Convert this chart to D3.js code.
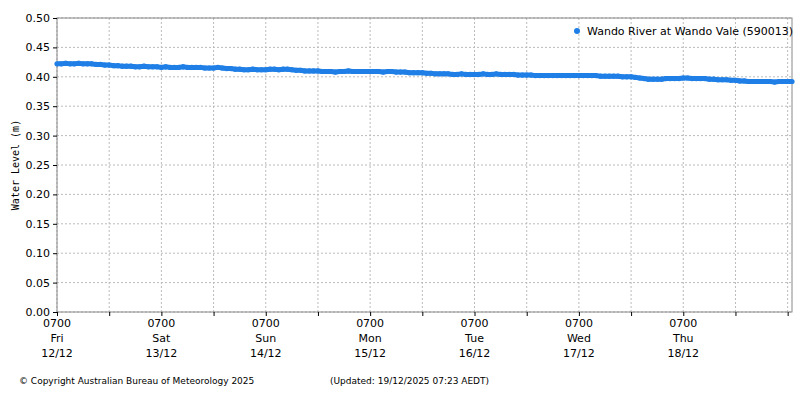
<!DOCTYPE html><html><head><meta charset="utf-8">
<script src="https://cdn.jsdelivr.net/npm/d3@7"></script>
<style>body{margin:0;background:#fff}text{font-family:"DejaVu Sans",sans-serif;fill:#000}</style></head><body>
<svg id="c" width="800" height="400"></svg>
<script>
const seriesName = "Wando River at Wando Vale (590013)";
const startTime = "2025-12-12T07:00";
const endTime = "2025-12-19T08:00";
const tickDays = ["Fri 12/12","Sat 13/12","Sun 14/12","Mon 15/12","Tue 16/12","Wed 17/12","Thu 18/12"];
const yTicks = [0,0.05,0.1,0.15,0.2,0.25,0.3,0.35,0.4,0.45,0.5];
const hourlyLevels = [
.422,.422,.423,.422,.422,.423,.422,.422,.422,.421,.421,.420,.420,.419,.419,.418,.418,.418,.417,.417,.418,.417,.417,.417,
.416,.417,.416,.416,.416,.417,.416,.416,.416,.416,.415,.415,.415,.416,.415,.414,.414,.413,.413,.412,.412,.413,.412,.412,
.412,.413,.413,.412,.413,.413,.412,.411,.411,.410,.410,.410,.410,.409,.409,.409,.408,.409,.409,.410,.409,.409,.409,.409,
.409,.409,.409,.408,.409,.409,.408,.408,.408,.407,.407,.407,.407,.406,.406,.405,.405,.405,.405,.404,.404,.405,.404,.404,
.404,.404,.405,.404,.404,.405,.404,.404,.404,.404,.403,.403,.403,.403,.402,.402,.402,.402,.402,.402,.402,.402,.402,.402,
.402,.402,.402,.402,.402,.401,.401,.401,.401,.401,.400,.400,.400,.399,.398,.397,.396,.396,.396,.396,.397,.397,.397,.397,
.398,.398,.397,.397,.397,.397,.396,.396,.395,.395,.395,.394,.394,.393,.393,.392,.392,.392,.392,.392,.392,.391,.392,.392,
.392,.392];
const color = "#1f7fe6";
const svg = d3.select("#c");
const L=57,R=792,T=18,B=312;
const t0=new Date(startTime), t1=new Date(endTime);
const x=d3.scaleTime().domain([t0,t1]).range([L,R]);
const y=d3.scaleLinear().domain([0,0.5]).range([B,T]);
const data=hourlyLevels.map((v,i)=>({t:new Date(+t0+i*3600e3),v}));
const g=svg.append("g");
// grid
const halfDays=d3.range(0,15).map(i=>new Date(+t0+i*12*3600e3)).filter(d=>d<=t1);
g.selectAll(".vg").data(halfDays).enter().append("line").attr("x1",d=>x(d)).attr("x2",d=>x(d)).attr("y1",T).attr("y2",B).attr("stroke","#bbb").attr("stroke-dasharray","2,2");
g.selectAll(".hg").data(yTicks).enter().append("line").attr("x1",L).attr("x2",R).attr("y1",d=>y(d)).attr("y2",d=>y(d)).attr("stroke","#bbb").attr("stroke-dasharray","2,2");
svg.append("rect").attr("x",L).attr("y",T).attr("width",R-L).attr("height",B-T).attr("fill","none").attr("stroke","#888");
// axes
const ya=svg.append("g").attr("transform",`translate(${L},0)`).call(d3.axisLeft(y).tickValues(yTicks).tickFormat(d3.format(".2f")).tickSize(4));
ya.select(".domain").remove();ya.selectAll("text").style("font-size","11px");
const xa=svg.append("g").attr("transform",`translate(0,${B})`).call(d3.axisBottom(x).tickValues(halfDays).tickSize(4).tickFormat(""));
xa.select(".domain").remove();
const dayT=tickDays.map((s,i)=>({s,t:new Date(+t0+i*24*3600e3)}));
const lab=svg.append("g").selectAll("text").data(dayT).enter().append("text").attr("x",d=>x(d.t)).attr("text-anchor","middle").style("font-size","11px");
lab.append("tspan").attr("x",d=>x(d.t)).attr("y",327).text("0700");
lab.append("tspan").attr("x",d=>x(d.t)).attr("y",342).text(d=>d.s.split(" ")[0]);
lab.append("tspan").attr("x",d=>x(d.t)).attr("y",357).text(d=>d.s.split(" ")[1]);
svg.append("text").attr("transform",`translate(19,${(T+B)/2}) rotate(-90)`).attr("text-anchor","middle").style("font-family","DejaVu Sans Mono").style("font-size","10px").text("Water Level (m)");
// data
svg.append("path").datum(data).attr("d",d3.line().x(d=>x(d.t)).y(d=>y(d.v))).attr("fill","none").attr("stroke",color).attr("stroke-width",5).attr("stroke-linejoin","round");
svg.append("g").selectAll("circle").data(data).enter().append("circle").attr("cx",d=>x(d.t)).attr("cy",d=>y(d.v)).attr("r",2.6).attr("fill",color);
// legend
svg.append("circle").attr("cx",577).attr("cy",31).attr("r",3).attr("fill",color);
svg.append("text").attr("x",587).attr("y",35).style("font-size","11px").text(seriesName);
svg.append("text").attr("x",19).attr("y",384).style("font-size",9+"px").text("© Copyright Australian Bureau of Meteorology 2025");
svg.append("text").attr("x",330).attr("y",384).style("font-size","9px").text("(Updated: 19/12/2025 07:23 AEDT)");
</script></body></html>
